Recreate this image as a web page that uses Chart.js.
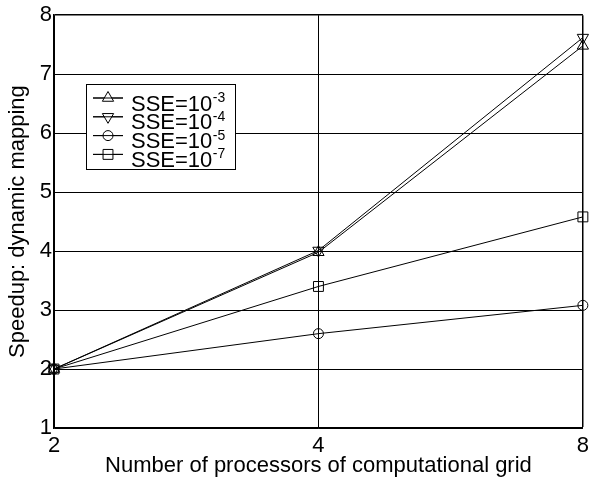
<!DOCTYPE html>
<html>
<head>
<meta charset="utf-8">
<script src="https://cdn.jsdelivr.net/npm/chart.js@4/dist/chart.umd.min.js"></script>
<style>
html,body{margin:0;padding:0;background:#fff;}
#wrap{width:594px;height:481px;}
</style>
</head>
<body>
<div id="wrap"><canvas id="c" width="594" height="481"></canvas></div>
<script>
const processors = ['2', '4', '8'];
const yTicks = [1, 2, 3, 4, 5, 6, 7, 8];
const sse3 = [2.0, 3.98, 7.48];
const sse4 = [2.0, 4.01, 7.62];
const sse5 = [2.0, 2.60, 3.08];
const sse7 = [2.0, 3.40, 4.58];
const legendBase = 'SSE=10';
const legendExp = ['-3', '-4', '-5', '-7'];
const xTitle = 'Number of processors of computational grid';
const yTitle = 'Speedup: dynamic mapping';

const FONT = '"Liberation Sans", Arial, Helvetica, sans-serif';
const FS = 22;

const styles = [
  {pointStyle: 'triangle', rotation: 0, radius: 6.5},
  {pointStyle: 'triangle', rotation: 180, radius: 6.5},
  {pointStyle: 'circle', rotation: 0, radius: 5},
  {pointStyle: 'rect', rotation: 0, radius: 7}
];
const series = [sse3, sse4, sse5, sse7];

const datasets = series.map((d, i) => ({
  label: legendBase + legendExp[i],
  data: d,
  borderColor: '#000',
  backgroundColor: 'rgba(0,0,0,0)',
  borderWidth: 1,
  pointStyle: styles[i].pointStyle,
  rotation: styles[i].rotation,
  pointRadius: styles[i].radius,
  pointHoverRadius: styles[i].radius,
  pointBorderColor: '#000',
  pointBackgroundColor: 'rgba(0,0,0,0)',
  pointBorderWidth: 1,
  tension: 0,
  fill: false
}));

const legendPlugin = {
  id: 'customLegend',
  afterDraw(chart) {
    const ctx = chart.ctx;
    const bx = 86, by = 84, bw = 149, bh = 85;
    ctx.save();
    ctx.fillStyle = '#fff';
    ctx.fillRect(bx, by, bw, bh);
    ctx.strokeStyle = '#000';
    ctx.lineWidth = 1;
    ctx.strokeRect(bx + 0.5, by + 0.5, bw, bh);
    legendExp.forEach((exp, i) => {
      const ry = 98 + i * 18.8;
      ctx.beginPath();
      ctx.strokeStyle = '#000';
      ctx.lineWidth = 1;
      ctx.moveTo(93, ry);
      ctx.lineTo(123, ry);
      ctx.stroke();
      ctx.fillStyle = '#fff';
      ctx.strokeStyle = '#000';
      Chart.helpers.drawPoint(ctx, {
        pointStyle: styles[i].pointStyle,
        rotation: styles[i].rotation,
        radius: styles[i].radius,
        borderWidth: 1
      }, 108, ry);
      ctx.beginPath();
      ctx.moveTo(93, ry);
      ctx.lineTo(123, ry);
      ctx.stroke();
      ctx.fillStyle = '#000';
      ctx.textBaseline = 'alphabetic';
      ctx.textAlign = 'left';
      ctx.font = FS + 'px ' + FONT;
      ctx.fillText(legendBase, 131, ry + 12.5);
      const w = ctx.measureText(legendBase).width;
      ctx.font = '14px ' + FONT;
      ctx.fillText(exp, 131 + w + 0.5, ry + 4);
    });
    ctx.restore();
  }
};

new Chart(document.getElementById('c'), {
  type: 'line',
  data: {labels: processors, datasets},
  options: {
    responsive: false,
    animation: false,
    devicePixelRatio: 1,
    layout: {padding: {top: 12, right: 9, left: 0, bottom: 0}},
    plugins: {legend: {display: false}, tooltip: {enabled: false}},
    scales: {
      x: {
        type: 'category',
        offset: false,
        grid: {
          color: '#000',
          lineWidth: (c) => (c.index === processors.length - 1 ? 1.5 : 1),
          drawTicks: false,
          offset: false
        },
        border: {color: '#000', width: 1.5},
        ticks: {color: '#000', font: {family: FONT, size: FS}, padding: 5, maxRotation: 0},
        title: {display: true, text: xTitle, color: '#000', font: {family: FONT, size: FS}, padding: {top: 0, bottom: 2}},
        afterFit(s) { s.height = 53; }
      },
      y: {
        type: 'linear',
        min: 1,
        max: 8,
        afterBuildTicks(s) { s.ticks = yTicks.map(v => ({value: v})); },
        grid: {
          color: '#000',
          lineWidth: (c) => (c.tick && c.tick.value === 8 ? 1.5 : 1),
          drawTicks: false
        },
        border: {color: '#000', width: 1.5},
        ticks: {color: '#000', font: {family: FONT, size: FS}, padding: 2, stepSize: 1},
        title: {display: true, text: yTitle, color: '#000', font: {family: FONT, size: FS}, padding: {top: 5, bottom: 0}},
        afterFit(s) { s.width = 54; }
      }
    }
  },
  plugins: [legendPlugin]
});
</script>
</body>
</html>
